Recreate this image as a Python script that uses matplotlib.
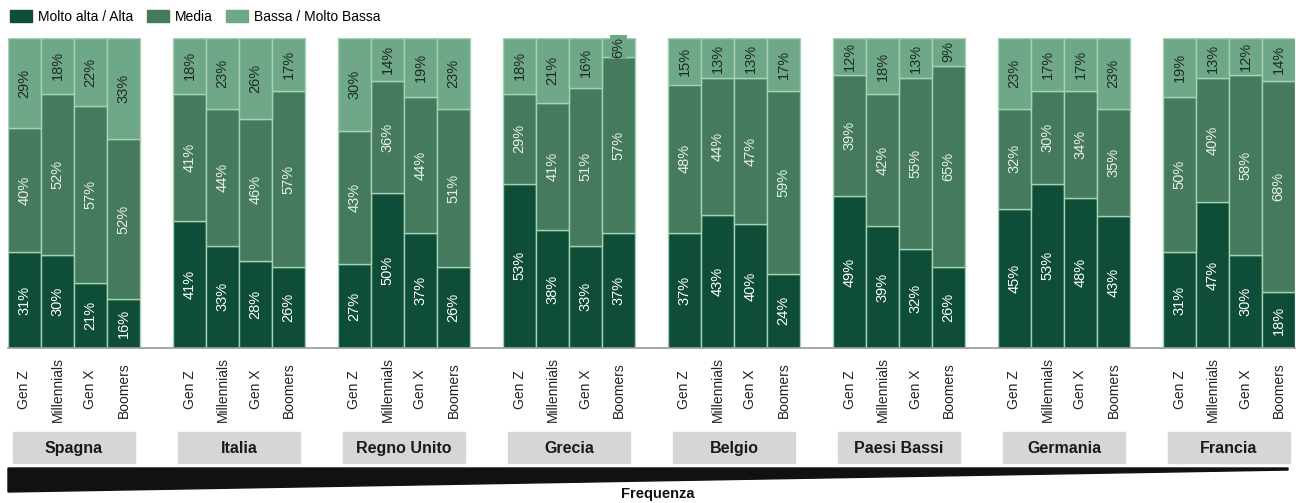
import numpy as np
import matplotlib.pyplot as plt
from matplotlib.patches import Patch, Rectangle, Polygon
from matplotlib.transforms import blended_transform_factory

# dati
paesi = ['Spagna', 'Italia', 'Regno Unito', 'Grecia', 'Belgio', 'Paesi Bassi', 'Germania', 'Francia']
generazioni = ['Gen Z', 'Millennials', 'Gen X', 'Boomers']
serie = ['Molto alta / Alta', 'Media', 'Bassa / Molto Bassa']

alta = [31, 30, 21, 16,  41, 33, 28, 26,  27, 50, 37, 26,  53, 38, 33, 37,
        37, 43, 40, 24,  49, 39, 32, 26,  45, 53, 48, 43,  31, 47, 30, 18]
media = [40, 52, 57, 52,  41, 44, 46, 57,  43, 36, 44, 51,  29, 41, 51, 57,
         48, 44, 47, 59,  39, 42, 55, 65,  32, 30, 34, 35,  50, 40, 58, 68]
bassa = [29, 18, 22, 33,  18, 23, 26, 17,  30, 14, 19, 23,  18, 21, 16, 6,
         15, 13, 13, 17,  12, 18, 13, 9,  23, 17, 17, 23,  19, 13, 12, 14]

colori = ['#0e4d37', '#467a5e', '#6ea888']
colori_testo = ['#ffffff', '#e6efe9', '#1f2a24']

plt.rcParams['font.family'] = ['Liberation Sans', 'DejaVu Sans']

fig = plt.figure(figsize=(12.96, 5.03), dpi=100)
ax = fig.add_axes([8 / 1296, 1 - 348 / 503, 1287 / 1296, 310 / 503])

valori = np.array([alta, media, bassa], dtype=float)
quote = valori / valori.sum(axis=0) * 100  # ogni barra arriva al 100%

x = np.array([g * 5 + j for g in range(len(paesi)) for j in range(len(generazioni))])
base = np.zeros(len(x))
for k in range(3):
    ax.bar(x, quote[k], bottom=base, width=1.0, color=colori[k],
           edgecolor='#a6d2b4', linewidth=1.0)
    for xi, b, h, v in zip(x, base, quote[k], valori[k]):
        box = None
        if v < 8:
            box = dict(boxstyle='square,pad=0.1', fc=colori[k], ec='none')
        ax.text(xi, b + h / 2, f'{int(v)}%', rotation=90, ha='center', va='center',
                fontsize=10.5, color=colori_testo[k], bbox=box)
    base += quote[k]

ax.set_xlim(-0.5, 38.5)
ax.set_ylim(0, 100)
ax.set_yticks([])
ax.set_xticks(x)
ax.set_xticklabels(generazioni * len(paesi), rotation=90, va='center', ha='center',
                   fontsize=10, color='#222222')
ax.tick_params(axis='x', length=0, pad=30)
for s in ['top', 'left', 'right']:
    ax.spines[s].set_visible(False)
ax.spines['bottom'].set_color('#9a9a9a')
ax.spines['bottom'].set_linewidth(1.2)

# riquadri dei paesi
trans = blended_transform_factory(ax.transData, fig.transFigure)
for g, nome in enumerate(paesi):
    r = Rectangle((g * 5 - 0.35, 1 - 463 / 503), 3.7, 31 / 503, transform=trans,
                  color='#d6d6d6', zorder=1)
    fig.add_artist(r)
    fig.text(g * 5 + 1.5, 1 - 447 / 503, nome, transform=trans, fontsize=11.5,
             fontweight='bold', color='#1a1a1a', ha='center', va='center_baseline',
             zorder=5)

# cuneo "Frequenza"
cuneo = Polygon([(8 / 1296, 1 - 468 / 503), (1288 / 1296, 1 - 468 / 503),
                 (1288 / 1296, 1 - 470 / 503), (8 / 1296, 1 - 492 / 503)],
                closed=True, transform=fig.transFigure, color='#111111')
fig.add_artist(cuneo)
fig.text(658 / 1296, 1 - 494 / 503, 'Frequenza', fontsize=10.5, fontweight='bold',
         color='#111111', ha='center', va='center')

# legenda
handles = [Patch(color=c) for c in colori]
fig.legend(handles, serie, loc='upper left', bbox_to_anchor=(0.0, 1.0), ncol=3,
           frameon=False, fontsize=10, handlelength=1.6, handleheight=1.0,
           handletextpad=0.4, columnspacing=1.0, borderaxespad=0.3)

fig.savefig('out.png', dpi=100)
